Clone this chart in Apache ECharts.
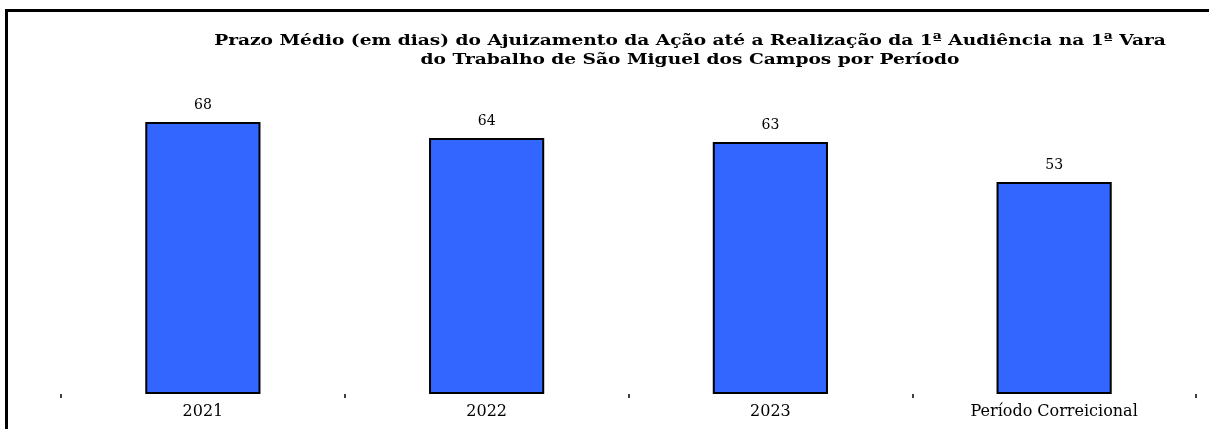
<!DOCTYPE html>
<html>
<head>
<meta charset="utf-8">
<title>Prazo Médio</title>
<script src="https://cdn.jsdelivr.net/npm/echarts@6/dist/echarts.min.js"></script>
<style>
  html, body { margin: 0; padding: 0; background: #fff; }
  #chart { width: 1209px; height: 429px; }
</style>
</head>
<body>
<div id="chart"></div>
<script>
// dados do gráfico
const periodos = ['2021', '2022', '2023', 'Período Correicional']
const prazoMedio = [68, 64, 63, 53]
const titulo = 'Prazo Médio (em dias) do Ajuizamento da Ação até a Realização da 1ª Audiência na 1ª Vara\ndo Trabalho de São Miguel dos Campos por Período'

const chart = echarts.init(document.getElementById('chart'))

const option = {
  animation: false,
  backgroundColor: '#fff',
  graphic: [
    // moldura (só esquerda e topo aparecem no recorte)
    {
      type: 'line',
      shape: { x1: 6.5, y1: 9, x2: 6.5, y2: 429 },
      style: { stroke: '#000', lineWidth: 3 },
    },
    {
      type: 'line',
      shape: { x1: 5, y1: 10.5, x2: 1209, y2: 10.5 },
      style: { stroke: '#000', lineWidth: 3 },
    },
    // título com a fonte "esticada" como no original
    {
      type: 'text',
      x: 690,
      y: 32,
      scaleX: 1.24,
      style: {
        text: titulo,
        font: 'bold 15px "DejaVu Serif"',
        lineHeight: 19,
        fill: '#000',
        align: 'center',
        verticalAlign: 'top',
      },
    },
  ],
  grid: {
    left: 61,
    right: 13,
    top: 74,
    bottom: 35,
  },
  xAxis: {
    type: 'category',
    data: periodos,
    axisLine: { show: false },
    axisTick: {
      show: true,
      length: 4,
      lineStyle: { color: '#000', width: 1.5 },
    },
    axisLabel: {
      margin: 10,
      fontFamily: 'DejaVu Serif',
      fontSize: 16,
      color: '#000',
    },
  },
  yAxis: {
    type: 'value',
    min: 0,
    max: 80,
    show: false,
    splitLine: { show: false },
  },
  series: [
    {
      type: 'bar',
      data: prazoMedio,
      barWidth: '40.6%',
      itemStyle: {
        color: '#3366ff',
        borderColor: '#000',
        borderWidth: 2,
      },
      label: {
        show: true,
        position: 'top',
        distance: 10,
        fontFamily: 'DejaVu Serif',
        fontSize: 14,
        color: '#000',
      },
    },
  ],
}

chart.setOption(option)
</script>
</body>
</html>
